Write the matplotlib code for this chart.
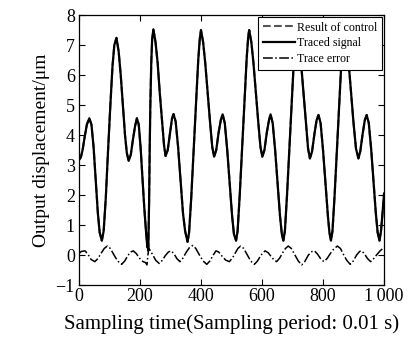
import numpy as np
import matplotlib
matplotlib.use("Agg")
import matplotlib.pyplot as plt

plt.rcParams['font.family'] = ['Liberation Serif', 'DejaVu Serif']
plt.rcParams['mathtext.fontset'] = 'stix'

# traced signal (sample index, displacement in um)
t_sig = [0, 6, 12, 19, 26, 34, 41, 48, 55, 62, 68, 75, 81, 88, 95, 103, 110, 116, 123,
         130, 137, 144, 151, 157, 163, 170, 177, 184, 190, 196, 202, 208, 214, 219, 223,
         225, 226, 227, 228, 230, 232, 234, 237, 240, 244,
         251, 258, 265, 273, 279, 284, 291, 299, 305, 310, 317, 325, 333, 341, 348, 356,
         361, 368, 376, 384, 391, 396, 400,
         407, 414, 422, 430, 437, 443, 450, 458, 465, 471, 478, 486, 494, 502, 508, 515,
         520, 527, 535, 543, 550, 555, 558,
         565, 572, 580, 588, 595, 601, 608, 616, 623, 628, 635, 643, 651, 659, 665, 670,
         675, 682, 690, 698, 705, 710, 714,
         721, 728, 736, 744, 751, 757, 764, 772, 779, 785, 792, 800, 808, 816, 821, 826,
         831, 838, 846, 854, 861, 866, 870,
         877, 884, 892, 900, 908, 916, 922, 930, 937, 943, 950, 958, 966, 973, 979, 985,
         990, 995, 1000]
traced = [3.17, 3.25, 3.5, 3.95, 4.35, 4.56, 4.35, 3.6, 2.5, 1.4, 0.75, 0.48, 0.8, 1.9, 3.4, 5.0, 6.3, 7.0, 7.24,
          6.8, 6.0, 5.0, 4.0, 3.4, 3.14, 3.35, 3.85, 4.3, 4.56, 4.35, 3.6, 2.6, 1.6, 0.9, 0.4,
          0.25, 0.5, 0.15, 0.6, 1.8, 3.6, 5.0, 6.4, 7.2, 7.52,
          7.1, 6.4, 5.4, 4.4, 3.65, 3.3, 3.5, 4.1, 4.55, 4.7, 4.45, 3.6, 2.5, 1.4, 0.8, 0.44,
          0.75, 1.9, 3.5, 5.1, 6.5, 7.2, 7.5,
          7.1, 6.4, 5.4, 4.4, 3.6, 3.28, 3.5, 4.1, 4.5, 4.69, 4.4, 3.5, 2.4, 1.3, 0.7, 0.48,
          0.8, 2.0, 3.6, 5.2, 6.6, 7.3, 7.5,
          7.1, 6.4, 5.4, 4.4, 3.6, 3.28, 3.5, 4.1, 4.5, 4.69, 4.4, 3.5, 2.4, 1.3, 0.7, 0.48,
          0.8, 2.0, 3.6, 5.2, 6.6, 7.3, 7.5,
          7.1, 6.4, 5.4, 4.4, 3.55, 3.22, 3.45, 4.05, 4.5, 4.67, 4.4, 3.5, 2.4, 1.3, 0.75, 0.48,
          0.8, 2.0, 3.6, 5.2, 6.6, 7.3, 7.5,
          7.1, 6.4, 5.4, 4.4, 3.55, 3.22, 3.45, 4.05, 4.5, 4.67, 4.4, 3.5, 2.4, 1.4, 0.75, 0.48,
          0.8, 1.4, 2.05]
# result of control lies on top of the traced signal
control = list(traced)

# trace error
t_err = [0, 8, 20, 30, 40, 52, 62, 72, 83, 93, 103, 115, 127, 140, 150, 160, 170, 178, 188,
         198, 210, 218, 223, 226, 229, 234, 242, 252, 263, 273, 283, 293, 302, 311, 321, 331,
         341, 352, 363, 373, 383, 395, 407, 419, 429, 439, 449, 458, 470, 481, 493, 503, 513,
         521, 530, 540, 552, 563, 575, 585, 597, 610, 620, 630, 640, 648, 658, 668, 677, 686,
         696, 708, 719, 730, 740, 752, 764, 772, 782, 792, 803, 813, 824, 835, 847, 857, 868,
         878, 889, 899, 910, 920, 927, 937, 946, 956, 966, 977, 988, 1000]
err = [0.05, 0.12, 0.14, 0.02, -0.15, -0.22, -0.12, 0.05, 0.22, 0.3, 0.22, 0.0, -0.2, -0.31, -0.2, -0.02, 0.1, 0.14, 0.05,
       -0.1, -0.22, -0.25, -0.33, 0.0, 0.22, 0.15, 0.0, -0.18, -0.28, -0.18, -0.02, 0.1, 0.14, 0.05, -0.12, -0.22,
       -0.1, 0.1, 0.26, 0.32, 0.22, 0.0, -0.2, -0.31, -0.2, -0.02, 0.14, 0.1, -0.05, -0.17, -0.22, -0.1, 0.08,
       0.22, 0.3, 0.22, 0.0, -0.2, -0.31, -0.2, 0.0, 0.14, 0.08, -0.05, -0.17, -0.22, -0.1, 0.08, 0.22, 0.3,
       0.22, 0.0, -0.2, -0.33, -0.22, 0.0, 0.12, 0.14, 0.03, -0.12, -0.22, -0.12, 0.05, 0.2, 0.3, 0.22, 0.0,
       -0.18, -0.31, -0.2, 0.0, 0.12, 0.14, 0.02, -0.12, -0.22, -0.12, 0.02, 0.15, 0.25]

xticks = [0, 200, 400, 600, 800, 1000]
xtick_labels = ['0', '200', '400', '600', '800', '1\u2009000']
yticks = list(range(-1, 9))

fig = plt.figure(figsize=(4.09, 3.43), dpi=100)
ax = fig.add_axes([0.193, 0.169, 0.746, 0.787])

l1, = ax.plot(t_sig, control, '--', color='#555555', lw=1.5)
l2, = ax.plot(t_sig, traced, '-', color='black', lw=1.6)
l3, = ax.plot(t_err, err, '-.', color='black', lw=1.1)

ax.set_xlim(0, 1000)
ax.set_ylim(-1, 8)
ax.set_xticks(xticks)
ax.set_xticklabels(xtick_labels)
ax.set_yticks(yticks)
ax.set_yticklabels(['\u22121'] + [str(v) for v in yticks[1:]])
ax.tick_params(direction='in', top=True, right=True, length=4, width=0.8,
               labelsize=13)
ax.tick_params(axis='x', pad=2)
ax.tick_params(axis='y', pad=3)
for s in ax.spines.values():
    s.set_linewidth(0.9)

ax.set_xlabel('Sampling time(Sampling period: 0.01 s)', fontsize=15, labelpad=7)
ax.set_ylabel('Output displacement/\u03bcm', fontsize=14, labelpad=4)

leg = ax.legend([l1, l2, l3], ['Result of control', 'Traced signal', 'Trace error'],
                loc='upper right', fontsize=8.6, frameon=True, fancybox=False,
                edgecolor='black', framealpha=1, borderaxespad=0.15,
                handlelength=2.7, handletextpad=0.15, labelspacing=0.3, borderpad=0.4)
leg.get_frame().set_linewidth(0.8)

fig.savefig('out.png', dpi=100)
